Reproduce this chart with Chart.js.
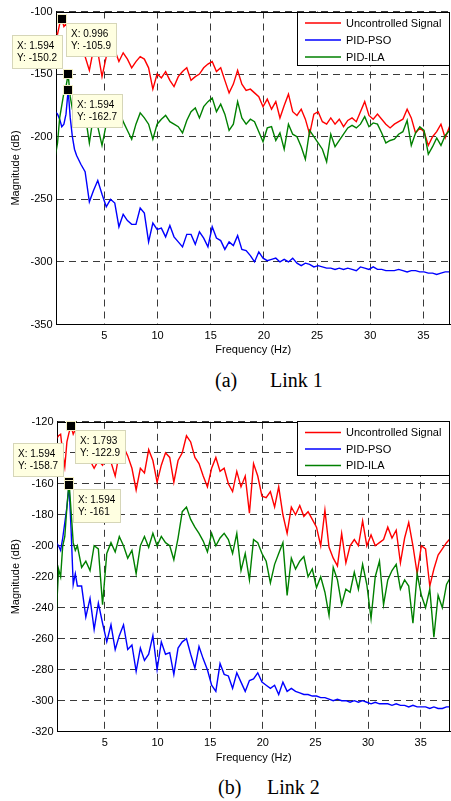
<!DOCTYPE html>
<html><head><meta charset="utf-8">
<script src="https://cdn.jsdelivr.net/npm/chart.js@4.4.1/dist/chart.umd.min.js"></script>
<style>
body{margin:0;background:#fff;width:451px;height:801px;overflow:hidden;position:relative}
canvas{position:absolute;left:0}
#c1{top:0}#c2{top:400px}
.cap{position:absolute;font-family:"Liberation Serif","Times New Roman",serif;font-size:20px;color:#000;line-height:20px;white-space:nowrap}
</style></head><body>
<canvas id="c1" width="451" height="362"></canvas>
<canvas id="c2" width="451" height="372"></canvas>
<div class="cap" style="left:215px;top:370px">(a)</div>
<div class="cap" style="left:270px;top:370px">Link 1</div>
<div class="cap" style="left:218px;top:777px">(b)</div>
<div class="cap" style="left:267px;top:777px">Link 2</div>
<script>
// ---------------- DATA ----------------
const seriesNames = ['Uncontrolled Signal', 'PID-PSO', 'PID-ILA'];
const freq = [0.398,0.598,0.797,0.996,1.195,1.394,1.594,1.793,1.992,2.191,2.39,
2.79,3.19,3.59,3.98,4.38,4.78,5.18,5.58,5.98,6.37,
6.77,7.17,7.57,7.97,8.37,8.76,9.16,9.56,9.96,10.36,
10.76,11.16,11.55,11.95,12.35,12.75,13.15,13.55,13.94,14.34,
14.74,15.14,15.54,15.94,16.33,16.73,17.13,17.53,17.93,18.33,
18.73,19.12,19.52,19.92,20.32,20.72,21.12,21.51,21.91,22.31,
22.71,23.11,23.51,23.9,24.3,24.7,25.1,25.5,25.9,26.29,
26.69,27.09,27.49,27.89,28.29,28.69,29.08,29.48,29.88,30.28,
30.68,31.08,31.47,31.87,32.27,32.67,33.07,33.47,33.86,34.26,
34.66,35.06,35.46,35.86,36.25,36.65,37.05,37.45,37.85];

const link1Uncontrolled = [-117,-118,-110,-105.9,-112,-110,-115,-113,-120,-118,-124,
-128,-136,-147,-130,-132,-152,-136,-134,-131,-140,
-133,-138,-145,-140,-136,-138,-145,-162,-150,-153,
-148,-155,-160,-152,-148,-145,-155,-152,-150,-145,
-142,-140,-148,-145,-155,-165,-158,-147,-158,-163,
-162,-165,-168,-176,-170,-178,-172,-185,-175,-166,
-180,-183,-178,-186,-198,-182,-180,-188,-190,-185,
-190,-186,-192,-187,-185,-188,-180,-172,-183,-186,
-182,-186,-190,-193,-190,-188,-186,-178,-185,-197,
-193,-196,-207,-200,-196,-190,-201,-192,-195];

const link1PSO = [-180,-182,-186,-192,-190,-182,-162.7,-185,-200,-210,-215,
-222,-228,-252,-243,-235,-246,-256,-250,-253,-272,
-262,-267,-270,-270,-257,-261,-284,-269,-274,-273,
-280,-271,-280,-284,-288,-278,-278,-286,-276,-281,
-288,-272,-281,-283,-290,-284,-287,-279,-290,-291,
-295,-300,-292,-297,-299,-298,-297,-300,-298,-300,
-297,-301,-303,-301,-302,-304,-303,-304,-305,-305,
-306,-305,-306,-305,-306,-307,-304,-305,-306,-304,
-306,-306,-307,-307,-307,-306,-307,-308,-307,-307,
-308,-308,-309,-309,-310,-309,-308,-308,-308];

const link1ILA = [-215,-205,-185,-175,-165,-160,-150.2,-168,-178,-184,-186,
-190,-182,-205,-183,-192,-207,-190,-185,-190,-178,
-188,-195,-202,-190,-181,-185,-190,-202,-190,-186,
-183,-188,-190,-192,-197,-187,-180,-177,-185,-176,
-172,-169,-180,-174,-182,-195,-190,-172,-185,-190,
-186,-188,-196,-204,-193,-192,-203,-197,-210,-190,
-198,-200,-208,-218,-195,-200,-205,-210,-220,-198,
-208,-203,-198,-193,-191,-193,-190,-184,-192,-189,
-190,-197,-205,-203,-202,-198,-196,-187,-207,-197,
-192,-195,-214,-208,-201,-207,-199,-195,-193];

const link2Uncontrolled = [-131,-129,-128,-140,-149,-133,-127,-122.9,-128,-125,-132,
-138,-140,-145,-150,-145,-148,-142,-146,-155,-140,
-136,-142,-150,-164,-150,-153,-138,-145,-159,-148,
-140,-143,-159,-145,-140,-129,-133,-143,-147,-155,
-162,-150,-143,-152,-150,-160,-165,-152,-162,-155,
-179,-147,-155,-168,-169,-165,-175,-162,-180,-192,
-175,-180,-174,-181,-178,-183,-188,-200,-177,-201,
-208,-213,-192,-211,-200,-196,-200,-184,-200,-193,
-200,-198,-196,-188,-195,-190,-211,-195,-185,-200,
-218,-200,-202,-226,-215,-206,-202,-198,-195];

const link2PSO = [-198,-200,-203,-195,-185,-175,-161,-190,-225,-218,-226,
-226,-246,-234,-254,-237,-250,-262,-251,-267,-258,
-251,-267,-264,-281,-266,-274,-270,-258,-280,-262,
-270,-269,-283,-266,-262,-260,-270,-279,-265,-273,
-280,-290,-294,-276,-283,-284,-292,-282,-288,-294,
-287,-286,-282,-288,-290,-292,-290,-296,-288,-294,
-292,-294,-295,-296,-296,-297,-297,-298,-298,-299,
-300,-299,-300,-300,-301,-300,-301,-300,-301,-302,
-301,-302,-302,-302,-303,-302,-303,-303,-304,-303,
-304,-304,-304,-305,-304,-305,-305,-304,-304];

const link2ILA = [-243,-215,-220,-200,-194,-175,-158.7,-178,-198,-203,-200,
-214,-210,-216,-200,-202,-238,-205,-198,-204,-194,
-200,-208,-203,-218,-200,-194,-201,-192,-200,-194,
-198,-200,-209,-195,-178,-175,-183,-188,-192,-197,
-204,-192,-200,-195,-192,-196,-205,-192,-216,-205,
-222,-196,-198,-205,-210,-224,-212,-205,-198,-232,
-208,-215,-210,-207,-220,-215,-227,-220,-230,-245,
-214,-222,-238,-228,-230,-217,-228,-212,-225,-247,
-220,-210,-238,-222,-216,-212,-228,-222,-226,-250,
-218,-232,-240,-228,-259,-232,-240,-225,-220];

const xTicks = [5, 10, 15, 20, 25, 30, 35];
const link1YTicks = [-350, -300, -250, -200, -150, -100];
const link2YTicks = [-320, -300, -280, -260, -240, -220, -200, -180, -160, -140, -120];

const link1TipFreq = [0.996, 1.594, 1.594];
const link1TipMag = [-105.9, -150.2, -162.7];
const link2TipFreq = [1.793, 1.594, 1.594];
const link2TipMag = [-122.9, -158.7, -161];

// ---------------- STYLE / PLUGINS ----------------
const FONT = '"Liberation Sans", Arial, Helvetica, sans-serif';
const colors = ['#ff0000', '#0000ff', '#008000'];

function pts(arr) { return freq.map((f, i) => ({x: f, y: arr[i]})); }

const framePlugin = {
  id: 'frame',
  afterDatasetsDraw(chart) {
    const {ctx, chartArea: a} = chart;
    ctx.save();
    ctx.strokeStyle = '#000'; ctx.lineWidth = 1;
    ctx.beginPath();
    const t = Math.round(a.top) + 0.5, r = Math.round(a.right) - 0.5;
    ctx.moveTo(a.left, t); ctx.lineTo(r, t); ctx.lineTo(r, a.bottom);
    ctx.stroke();
    ctx.restore();
  }
};

const legendBoxPlugin = {
  id: 'legendBox',
  afterDatasetsDraw(chart, args, o) {
    const {ctx, chartArea: a} = chart;
    const L = Math.round(a.right - o.width), T = Math.round(a.top + o.offsetY);
    ctx.save();
    ctx.fillStyle = '#fff';
    ctx.fillRect(L, T, o.width, o.height);
    ctx.strokeStyle = '#000'; ctx.lineWidth = 1;
    ctx.strokeRect(L + 0.5, T + 0.5, o.width - 1, o.height - 1);
    ctx.font = '11px ' + FONT;
    ctx.textBaseline = 'middle'; ctx.textAlign = 'left';
    chart.data.datasets.forEach((ds, i) => {
      const y = T + o.rowTop + i * o.rowGap;
      ctx.strokeStyle = ds.borderColor; ctx.lineWidth = 1.5;
      ctx.beginPath(); ctx.moveTo(L + 8, y); ctx.lineTo(L + 44, y); ctx.stroke();
      ctx.fillStyle = '#000';
      ctx.fillText(ds.label, L + 49, y + 0.5);
    });
    ctx.restore();
  }
};

const datatipPlugin = {
  id: 'datatips',
  afterDatasetsDraw(chart, args, o) {
    const {ctx} = chart;
    const xs = chart.scales.x, ys = chart.scales.y;
    ctx.save();
    ctx.font = '10px ' + FONT;
    ctx.textBaseline = 'middle'; ctx.textAlign = 'left';
    const tips = o.freqs.map((f, i) => ({
      f, m: o.mags[i], side: o.sides[i],
      px: xs.getPixelForValue(f), py: ys.getPixelForValue(o.mags[i])
    }));
    tips.forEach(t => {
      const l1 = 'X: ' + String(t.f), l2 = 'Y: ' + String(t.m);
      const w = Math.round(Math.max(ctx.measureText(l1).width, ctx.measureText(l2).width) + 11);
      const h = 34;
      let bx, by;
      if (t.side === 'tl') { bx = t.px - 5 - w; by = t.py - 5 - h; }
      else { bx = t.px + 4; by = t.py + 4; }
      bx = Math.round(bx); by = Math.round(by);
      ctx.fillStyle = '#ffffe1';
      ctx.fillRect(bx, by, w, h);
      ctx.strokeStyle = '#d6d6b8'; ctx.lineWidth = 1;
      ctx.strokeRect(bx + 0.5, by + 0.5, w - 1, h - 1);
      ctx.fillStyle = '#000';
      ctx.fillText(l1, bx + 5, by + 11);
      ctx.fillText(l2, bx + 5, by + 23.5);
    });
    tips.forEach(t => {
      ctx.fillStyle = '#f2eec4';
      ctx.fillRect(Math.round(t.px) - 5, Math.round(t.py) - 5, 10, 10);
      ctx.fillStyle = '#000';
      ctx.fillRect(Math.round(t.px) - 4, Math.round(t.py) - 4, 8, 8);
    });
    ctx.restore();
  }
};

function makeChart(id, series, yTicks, yMin, yMax, xMax, cfg) {
  const datasets = series.map((arr, i) => ({
    label: seriesNames[i],
    data: pts(arr),
    borderColor: colors[i],
    backgroundColor: colors[i],
    borderWidth: 1.4,
    pointRadius: 0,
    tension: 0,
    fill: false,
    order: 2 - i
  }));
  return new Chart(document.getElementById(id), {
    type: 'line',
    data: {datasets},
    options: {
      responsive: false,
      animation: false,
      devicePixelRatio: 1,
      layout: {padding: {top: cfg.padTop, right: 1, left: 0, bottom: 0}},
      plugins: {
        legend: {display: false},
        tooltip: {enabled: false},
        legendBox: cfg.legend,
        datatips: cfg.tips
      },
      scales: {
        x: {
          type: 'linear', min: 0.5, max: xMax,
          afterBuildTicks: s => { s.ticks = xTicks.map(v => ({value: v})); },
          afterFit: s => { s.height = cfg.xHeight; },
          grid: {color: '#3a3a3a', lineWidth: 1, drawTicks: false},
          border: {display: true, color: '#000', width: 1, dash: [7, 5]},
          ticks: {color: '#000', font: {family: FONT, size: 11}, padding: 5, maxRotation: 0, callback: v => String(v)},
          title: {display: true, text: 'Frequency (Hz)', color: '#000', font: {family: FONT, size: 11}, padding: {top: 0, bottom: cfg.xTitlePad}}
        },
        y: {
          type: 'linear', min: yMin, max: yMax,
          afterBuildTicks: s => { s.ticks = yTicks.map(v => ({value: v})); },
          afterFit: s => { s.width = cfg.yWidth; },
          grid: {color: '#3a3a3a', lineWidth: 1, drawTicks: false},
          border: {display: true, color: '#000', width: 1, dash: [7, 5]},
          ticks: {color: '#000', font: {family: FONT, size: 11}, padding: 4, callback: v => String(v)},
          title: {display: true, text: 'Magnitude (dB)', color: '#000', font: {family: FONT, size: 11}, padding: {top: 9.5, bottom: 0}}
        }
      }
    },
    plugins: [framePlugin, legendBoxPlugin, datatipPlugin]
  });
}

makeChart('c1', [link1Uncontrolled, link1PSO, link1ILA], link1YTicks, -350, -100, 37.5, {
  padTop: 11.5, xHeight: 37.5, xTitlePad: 5.4, yWidth: 56.5,
  legend: {width: 153, height: 54, offsetY: 0, rowTop: 11, rowGap: 17},
  tips: {freqs: link1TipFreq, mags: link1TipMag, sides: ['br', 'tl', 'br']}
});
makeChart('c2', [link2Uncontrolled, link2PSO, link2ILA], link2YTicks, -320, -120, 37.78, {
  padTop: 21.8, xHeight: 40.3, xTitlePad: 7.4, yWidth: 57.5,
  legend: {width: 153, height: 55, offsetY: -1, rowTop: 11.5, rowGap: 16.5},
  tips: {freqs: link2TipFreq, mags: link2TipMag, sides: ['br', 'tl', 'br']}
});
</script>
</body></html>
